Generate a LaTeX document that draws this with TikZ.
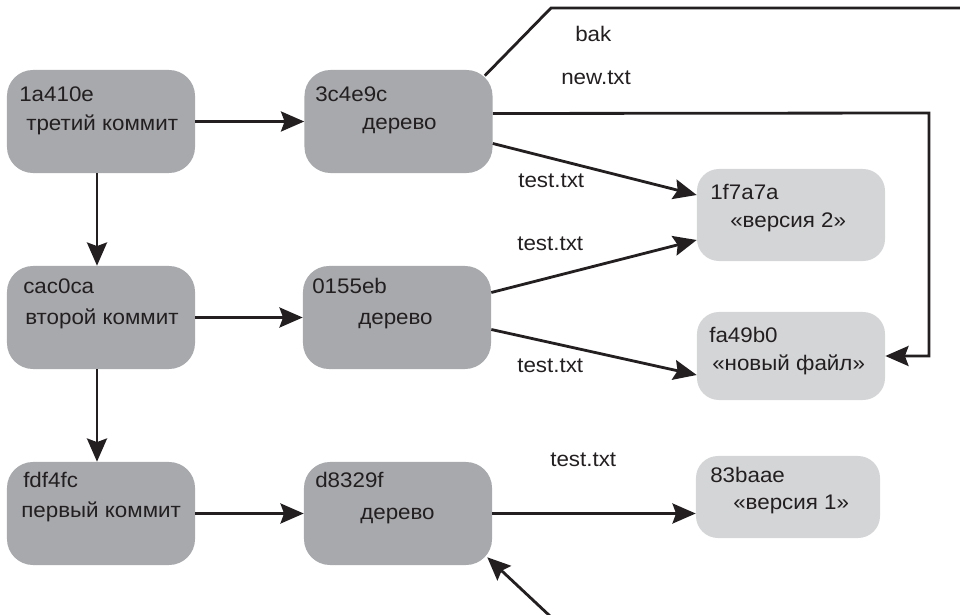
\documentclass[tikz,border=0pt]{standalone}
\usepackage{fontspec}
\setmainfont{Liberation Sans}[FakeStretch=1.06]
\usetikzlibrary{arrows.meta,calc}
\definecolor{boxdark}{HTML}{A7A9AC}
\definecolor{boxlight}{HTML}{D4D5D7}
\definecolor{ink}{HTML}{231F20}
\tikzset{
  darkbox/.style={fill=boxdark,rounded corners=0.65cm,minimum width=4.7cm,minimum height=2.575cm,inner sep=0pt},
  lightbox/.style={fill=boxlight,rounded corners=0.55cm,minimum width=4.7cm,inner sep=0pt},
  lbl/.style={anchor=base west,inner sep=0pt,text=ink,font=\fontsize{15pt}{18pt}\selectfont},
  link/.style={draw=ink,line width=2pt,-{Stealth[length=0.58cm,width=0.5cm,inset=0.09cm]}},
  wire/.style={draw=ink,line width=2pt}
}

\begin{document}
\begin{tikzpicture}[x=0.025cm,y=-0.025cm]
\useasboundingbox (0,0) rectangle (960,615);
% commits
\node[darkbox] (c3) at (101,121.5) {};
\node[darkbox] (c2) at (101,317.5) {};
\node[darkbox] (c1) at (101,513.5) {};
% trees
\node[darkbox] (t3) at (398.5,121.5) {};
\node[darkbox] (t2) at (397,317.5) {};
\node[darkbox] (t1) at (398,513.5) {};
% blobs
\node[lightbox,minimum height=2.3cm] (bv2) at (791,215) {};
\node[lightbox,minimum height=2.2cm] (bnew) at (791,356) {};
\node[lightbox,minimum width=4.6cm,minimum height=2.05cm] (bv1) at (788,497) {};
% texts in boxes
\node[lbl] (h3) at (19,102) {1a410e};
\node[lbl] (m3) at (26,131) {третий коммит};
\node[lbl] (h2) at (23,294) {cac0ca};
\node[lbl] (m2) at (25,325) {второй коммит};
\node[lbl] (h1) at (23,488) {fdf4fc};
\node[lbl] (m1) at (21,518) {первый коммит};
\node[lbl] (th3) at (315,102) {3c4e9c};
\node[lbl] (tm3) at (362,130) {дерево};
\node[lbl] (th2) at (312,294) {0155eb};
\node[lbl] (tm2) at (358,325) {дерево};
\node[lbl] (th1) at (315,488) {d8329f};
\node[lbl] (tm1) at (360,520) {дерево};
\node[lbl] (bh2) at (710,200) {1f7a7a};
\node[lbl] (bm2) at (730,228) {«версия 2»};
\node[lbl] (bhn) at (709,343) {fa49b0};
\node[lbl] (bmn) at (712,371) {«новый файл»};
\node[lbl] (bh1) at (710,483) {83baae};
\node[lbl] (bm1) at (733,510) {«версия 1»};
% entry names
\node[lbl] (nbak) at (575,42) {bak};
\node[lbl] (nnew) at (561,85) {new.txt};
\node[lbl] (ntest3) at (518,188) {test.txt};
\node[lbl] (ntest2a) at (517,251) {test.txt};
\node[lbl] (ntest2b) at (517,373) {test.txt};
\node[lbl] (ntest1) at (550,467) {test.txt};
% free ends and bends
\coordinate (bakbend) at (551,8);
\coordinate (bakend) at (962,8);
\coordinate (newbend) at (929,113);
\coordinate (inref) at (551,617);
% history
\draw[link] (c3) -- (t3);
\draw[link] (c2) -- (t2);
\draw[link] (c1.east |- t1.east) -- (t1.west);
\draw[link] ([xshift=-0.1cm]c3.south) -- ([xshift=-0.1cm]c2.north);
\draw[link] ([xshift=-0.1cm]c2.south) -- ([xshift=-0.1cm]c1.north);
% tree entries
\draw[link] ($(t3.east)+(0,22)$) -- ($(bv2.west)+(0,-20)$);
\draw[link] ($(t2.east)+(0,-25)$) -- ($(bv2.west)+(0,25)$);
\draw[link] ($(t2.east)+(0,12)$) -- ($(bnew.west)+(0,19)$);
\draw[link] (t1.east) -- (t1.east -| bv1.west);
\draw[wire] ($(t3.north east)+(-8,6)$) -- (bakbend) -- (bakend);
\draw[link] ($(t3.east)+(0,-8)$) -- (newbend) |- (bnew.east);
\draw[link] (inref) -- ($(t1.south east)+(-5,-8)$);
\end{tikzpicture}
\end{document}
